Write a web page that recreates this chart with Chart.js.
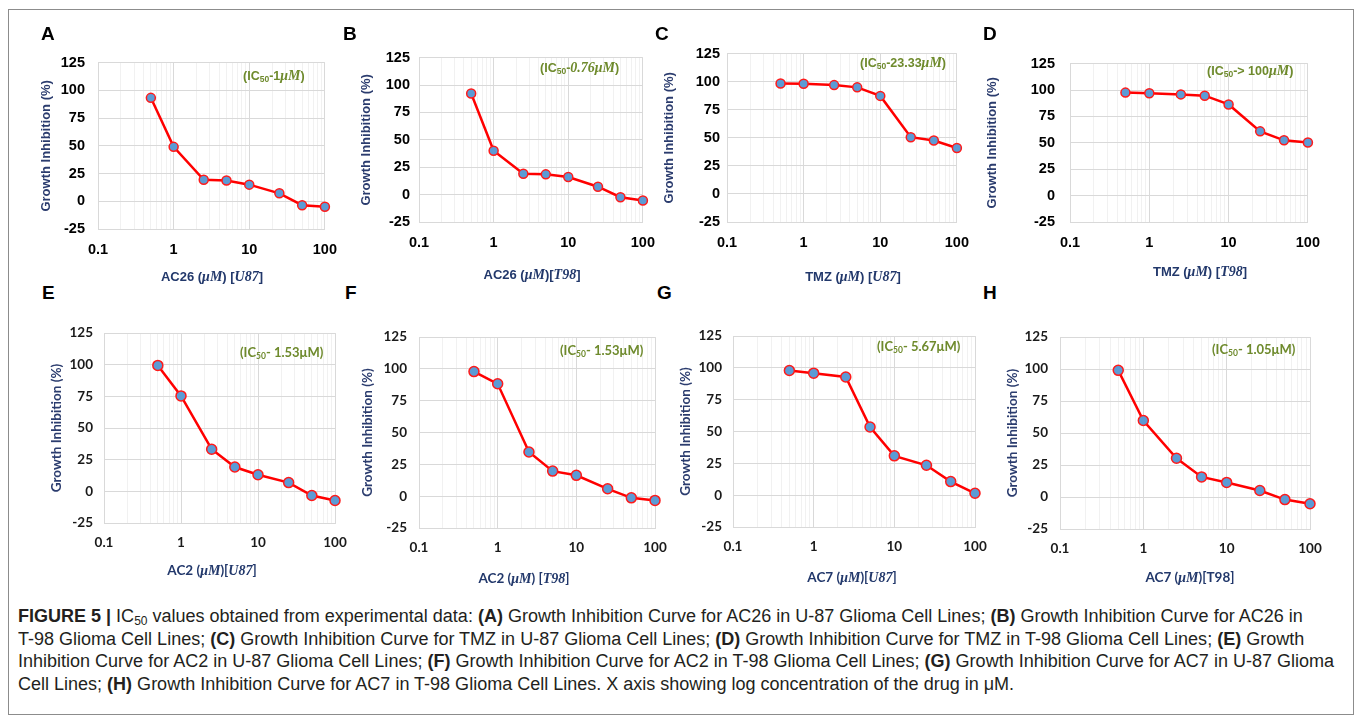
<!DOCTYPE html>
<html lang="en">
<head>
<meta charset="UTF-8">
<title>Figure 5 - IC50 growth inhibition curves</title>
<script src="https://cdn.jsdelivr.net/npm/chart.js"></script>
<style>
    body {
        margin: 0;
        width: 1357px;
        height: 726px;
        position: relative;
        overflow: hidden;
        background: #fff;
        font-family: 'Liberation Sans', Arial, sans-serif;
    }
    #frame {
        position: absolute;
        left: 8px;
        top: 9px;
        width: 1346px;
        height: 706px;
        border: 1.5px solid #8c8c8c;
        box-sizing: border-box;
    }
    canvas { position: absolute; z-index: 1; }
    .letter, .xtitle, .ic50 { z-index: 2; }
    .letter {
        position: absolute;
        font: bold 19px 'Liberation Sans', Arial, sans-serif;
        color: #000;
        transform: translateY(-50%);
    }
    .xtitle {
        position: absolute;
        transform: translate(-50%, -50%);
        white-space: nowrap;
        color: #22386b;
        font: bold 13px 'Liberation Sans', Arial, sans-serif;
    }
    .xtitle i, .ic50 i {
        font-family: 'Liberation Serif', 'DejaVu Serif', serif;
        font-style: italic;
        font-weight: bold;
        font-size: 14px;
    }
    .xtitle.lo { font: bold 13.5px Lato, 'Open Sans', sans-serif; }
    .ic50 {
        position: absolute;
        transform: translateY(-50%);
        white-space: nowrap;
        color: #6e8a2c;
        font: bold 12.5px 'Liberation Sans', Arial, sans-serif;
    }
    .ic50.lo { font: bold 13px Lato, 'Open Sans', sans-serif; }
    .ic50 sub { font-size: 8.5px; vertical-align: -2px; }
    #caption {
        position: absolute;
        left: 18px;
        top: 605px;
        color: #231f20;
        font-family: 'Liberation Sans Narrow', 'Arial Narrow', 'Liberation Sans', sans-serif;
        font-size: 18px;
        line-height: 22.7px;
        white-space: nowrap;
        transform-origin: 0 0;
        z-index: 2;
    }
    #caption sub { font-size: 12px; vertical-align: -3px; line-height: 0; }
</style>
</head>
<body>

<div id="frame"></div>

<div class="letter" style="left:41px;top:34px">A</div>
<div class="letter" style="left:343px;top:34px">B</div>
<div class="letter" style="left:655px;top:34px">C</div>
<div class="letter" style="left:983px;top:34px">D</div>
<div class="letter" style="left:42px;top:293px">E</div>
<div class="letter" style="left:345px;top:293px">F</div>
<div class="letter" style="left:657px;top:293px">G</div>
<div class="letter" style="left:983px;top:293px">H</div>

<div class="xtitle" style="left:212px;top:277px">AC26 (<i>μM</i>) [<i>U87</i>]</div>
<div class="xtitle" style="left:532px;top:275px">AC26 (<i>μM</i>)[<i>T98</i>]</div>
<div class="xtitle" style="left:853px;top:277px">TMZ (<i>μM</i>) [<i>U87</i>]</div>
<div class="xtitle" style="left:1200px;top:272px">TMZ (<i>μM</i>) [<i>T98</i>]</div>
<div class="xtitle lo" style="left:212px;top:570px">AC2 (<i>μM</i>)[<i>U87</i>]</div>
<div class="xtitle lo" style="left:524px;top:578px">AC2 (<i>μM</i>) [<i>T98</i>]</div>
<div class="xtitle lo" style="left:852px;top:577px">AC7 (<i>μM</i>)[<i>U87</i>]</div>
<div class="xtitle lo" style="left:1190px;top:577px">AC7 (<i>μM</i>)[T98]</div>

<div class="ic50" style="left:243px;top:76px">(IC<sub>50</sub>-1<i>μM</i>)</div>
<div class="ic50" style="left:540px;top:68px">(IC<sub>50</sub>-<i>0.76μM</i>)</div>
<div class="ic50" style="left:860px;top:63px">(IC<sub>50</sub>-23.33<i>μM</i>)</div>
<div class="ic50" style="left:1207px;top:71px">(IC<sub>50</sub>-&gt; 100<i>μM</i>)</div>
<div class="ic50 lo" style="left:240px;top:352px">(IC<sub>50</sub>- 1.53μM)</div>
<div class="ic50 lo" style="left:560px;top:350px">(IC<sub>50</sub>- 1.53μM)</div>
<div class="ic50 lo" style="left:877px;top:346px">(IC<sub>50</sub>- 5.67μM)</div>
<div class="ic50 lo" style="left:1212px;top:349px">(IC<sub>50</sub>- 1.05μM)</div>

<div id="caption">
<span class="ln"><b>FIGURE 5 |</b> IC<sub>50</sub> values obtained from experimental data: <b>(A)</b> Growth Inhibition Curve for AC26 in U-87 Glioma Cell Lines; <b>(B)</b> Growth Inhibition Curve for AC26 in</span><br>
<span class="ln">T-98 Glioma Cell Lines; <b>(C)</b> Growth Inhibition Curve for TMZ in U-87 Glioma Cell Lines; <b>(D)</b> Growth Inhibition Curve for TMZ in T-98 Glioma Cell Lines; <b>(E)</b> Growth</span><br>
<span class="ln">Inhibition Curve for AC2 in U-87 Glioma Cell Lines; <b>(F)</b> Growth Inhibition Curve for AC2 in T-98 Glioma Cell Lines; <b>(G)</b> Growth Inhibition Curve for AC7 in U-87 Glioma</span><br>
<span class="ln">Cell Lines; <b>(H)</b> Growth Inhibition Curve for AC7 in T-98 Glioma Cell Lines. X axis showing log concentration of the drug in μM.</span>
</div>

<script>
// drug concentrations (uM) used for every curve
var concentrations = [0.5, 1, 2.5, 5, 10, 25, 50, 100];

// growth inhibition (%) per drug / cell line
var ac26U87 = [93.3, 49.1, 19.4, 18.8, 15.0, 7.2, -3.5, -4.9];
var ac26T98 = [92.3, 40.0, 19.1, 18.5, 16.1, 7.2, -2.4, -5.4];
var tmzU87 = [98.5, 98.2, 97.0, 95.0, 87.4, 50.6, 47.6, 40.9];
var tmzT98 = [97.6, 97.0, 95.9, 94.7, 86.4, 60.9, 52.4, 50.3];
var ac2U87 = [99.5, 75.4, 33.3, 19.2, 13.1, 6.9, -3.3, -7.2];
var ac2T98 = [97.9, 88.3, 34.7, 19.7, 16.4, 5.8, -1.3, -3.3];
var ac7U87 = [98.0, 95.9, 92.9, 53.6, 30.9, 23.5, 10.7, 1.5];
var ac7T98 = [99.0, 59.8, 30.3, 15.7, 11.4, 5.1, -2.0, -5.3];

var xTickLabels = [0.1, 1, 10, 100];
var yTickLabels = [-25, 0, 25, 50, 75, 100, 125];

// minor log gridlines between the labelled decades
var xGridValues = [];
xTickLabels.forEach(function (d, i) {
    if (i === xTickLabels.length - 1) { xGridValues.push(d); return; }
    for (var k = 1; k < 10; k++) xGridValues.push(+(d * k).toPrecision(3));
});

// plot box [left, top, right, bottom] in page pixels, y title centre, tick gap
var panels = [
    { data: ac26U87, plot: [98, 55, 325, 229],  yTitleX: 47,   tickPad: 13, lower: false },
    { data: ac26T98, plot: [419, 54, 643, 222], yTitleX: 367,  tickPad: 9,  lower: false },
    { data: tmzU87,  plot: [727, 52, 957, 222], yTitleX: 670,  tickPad: 7,  lower: false },
    { data: tmzT98,  plot: [1070, 54, 1308, 222], yTitleX: 993, tickPad: 15, lower: false },
    { data: ac2U87,  plot: [104, 328, 335, 523], yTitleX: 57,  tickPad: 11, lower: true },
    { data: ac2T98,  plot: [419, 331, 655, 528], yTitleX: 368, tickPad: 12, lower: true },
    { data: ac7U87,  plot: [733, 331, 975, 527], yTitleX: 686, tickPad: 11, lower: true },
    { data: ac7T98,  plot: [1060, 331, 1310, 529], yTitleX: 1013, tickPad: 12, lower: true }
];

function makePanel(p) {
    var l = p.plot[0], t = p.plot[1], r = p.plot[2], b = p.plot[3];
    var tickFont = p.lower ? { family: 'Lato', size: 13.5, weight: 'bold' }
                           : { family: 'Liberation Sans', size: 14.5, weight: 'bold' };
    var titleFont = p.lower ? { family: 'Lato', size: 13.5, weight: 'bold' }
                            : { family: 'Liberation Sans', size: 13, weight: 'bold' };
    var left = Math.round(p.yTitleX - titleFont.size * 0.6);
    var top = t - 14;

    var canvas = document.createElement('canvas');
    canvas.width = r + 24 - left;
    canvas.height = b + 42 - top;
    canvas.style.left = left + 'px';
    canvas.style.top = top + 'px';
    document.body.appendChild(canvas);

    var points = concentrations.map(function (x, i) { return { x: x, y: p.data[i] }; });

    new Chart(canvas.getContext('2d'), {
        type: 'line',
        data: {
            datasets: [{
                data: points,
                borderColor: '#ff0000',
                borderWidth: 2.5,
                pointBackgroundColor: '#5b9bd5',
                pointBorderColor: '#ff1a1a',
                pointBorderWidth: 1.5,
                pointRadius: p.lower ? 5 : 4.5,
                tension: 0,
                clip: false
            }]
        },
        options: {
            responsive: false,
            animation: false,
            layout: { padding: { top: 14, right: 24, left: 0, bottom: 0 } },
            plugins: { legend: { display: false }, tooltip: { enabled: false } },
            scales: {
                x: {
                    type: 'logarithmic',
                    min: 0.1,
                    max: 100,
                    afterBuildTicks: function (s) {
                        s.ticks = xGridValues.map(function (v) {
                            return { value: v, major: xTickLabels.indexOf(v) >= 0 };
                        });
                    },
                    afterFit: function (s) { s.height = 42; },
                    grid: {
                        drawTicks: false,
                        color: function (c) {
                            return xTickLabels.indexOf(c.tick.value) >= 0 ? '#d9d9d9' : '#f1f1f1';
                        }
                    },
                    border: { color: '#d9d9d9' },
                    ticks: {
                        autoSkip: false,
                        maxRotation: 0,
                        padding: 12,
                        color: p.lower ? '#1a1a1a' : '#000',
                        font: tickFont,
                        callback: function (v) {
                            return xTickLabels.indexOf(v) >= 0 ? String(v) : '';
                        }
                    }
                },
                y: {
                    min: -25,
                    max: 125,
                    afterBuildTicks: function (s) {
                        s.ticks = yTickLabels.map(function (v) { return { value: v }; });
                    },
                    afterFit: function (s) { s.width = l - left; },
                    grid: { drawTicks: false, color: '#d9d9d9' },
                    border: { color: '#d9d9d9' },
                    ticks: {
                        padding: p.tickPad,
                        color: p.lower ? '#1a1a1a' : '#000',
                        font: tickFont
                    },
                    title: {
                        display: true,
                        text: 'Growth Inhibition (%)',
                        color: '#2b3c6e',
                        font: titleFont,
                        padding: 0
                    }
                }
            }
        }
    });
}

panels.forEach(makePanel);

// squeeze the caption lines to the figure width
var cap = document.getElementById('caption');
var widest = 0;
cap.querySelectorAll('.ln').forEach(function (s) {
    widest = Math.max(widest, s.getBoundingClientRect().width);
});
if (widest > 0) cap.style.transform = 'scaleX(' + (1316 / widest) + ')';
</script>

</body>
</html>
